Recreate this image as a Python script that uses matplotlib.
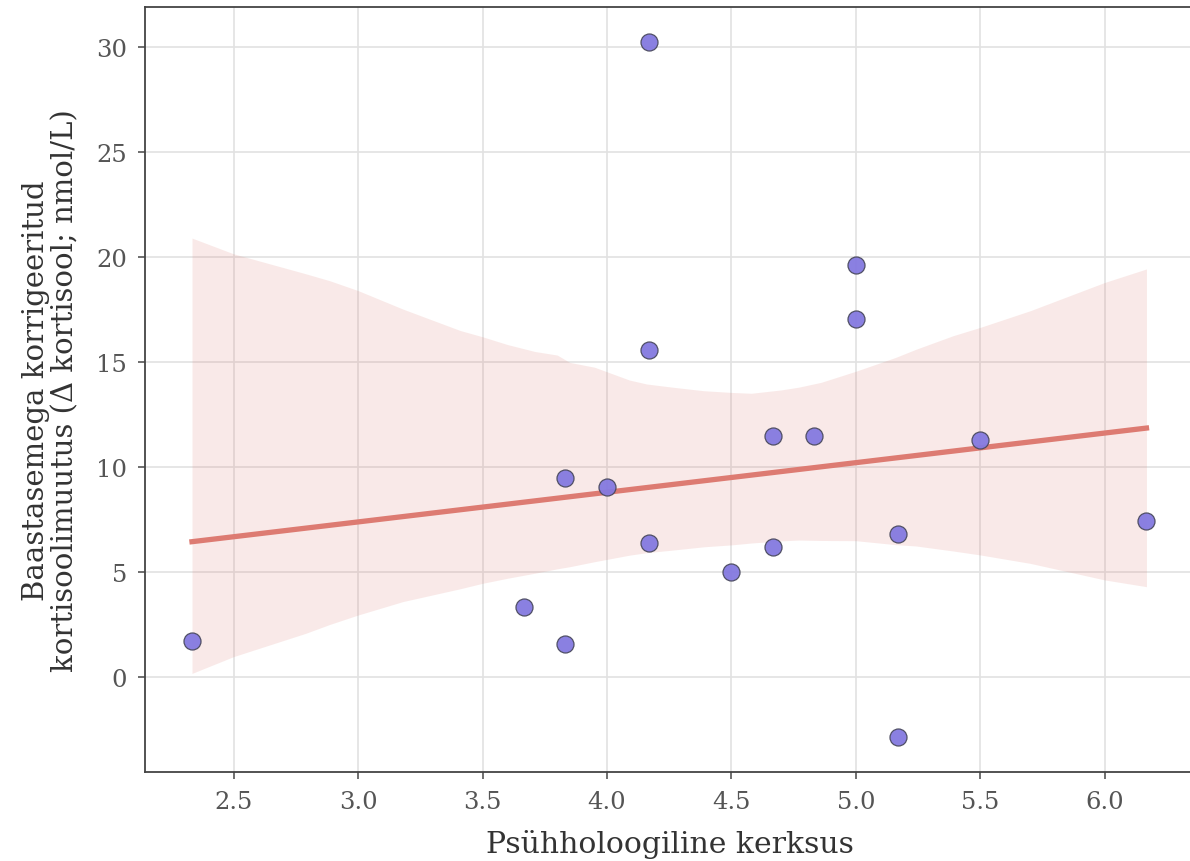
import numpy as np
import matplotlib
matplotlib.use('Agg')
import matplotlib.pyplot as plt

# Dados
kerksus = [2.333, 3.667, 3.833, 3.833, 4.0, 4.167, 4.167, 4.167, 4.5,
           4.667, 4.667, 4.833, 5.0, 5.0, 5.167, 5.167, 5.5, 6.167]
kortisool = [1.71, 3.33, 1.57, 9.48, 9.05, 30.22, 15.57, 6.38, 5.0,
             11.48, 6.19, 11.48, 19.62, 17.03, 6.8, -2.85, 11.29, 7.42]

# Usaldusvahemiku piirid (loetud pildilt)
band_x = [2.333, 2.5, 2.79, 2.886, 3.0, 3.18, 3.41, 3.5, 3.6, 3.71, 3.8, 3.85,
          3.95, 4.09, 4.16, 4.27, 4.39, 4.5, 4.58, 4.70, 4.77, 4.86, 5.0,
          5.16, 5.24, 5.39, 5.5, 5.70, 6.0, 6.167]
band_upper = [20.9, 20.15, 19.2, 18.87, 18.4, 17.52, 16.5, 16.2, 15.83, 15.5, 15.33, 14.98,
              14.75, 14.14, 13.95, 13.79, 13.63, 13.55, 13.51, 13.67, 13.8, 14.03, 14.56,
              15.22, 15.6, 16.25, 16.65, 17.44, 18.79, 19.43]
band_lower = [0.17, 0.97, 2.08, 2.5, 2.95, 3.59, 4.2, 4.46, 4.7, 4.94, 5.15, 5.25,
              5.49, 5.8, 5.92, 6.05, 6.2, 6.29, 6.38, 6.48, 6.52, 6.5, 6.49,
              6.3, 6.24, 6.0, 5.81, 5.41, 4.62, 4.30]

line_color = '#dd7b72'
point_color = '#8479e0'

plt.rcParams['font.family'] = ['DejaVu Serif']

fig = plt.figure(figsize=(11.9, 8.62), dpi=100)
ax = fig.add_axes([0.1218, 0.1036, 0.882, 0.8868])

ax.fill_between(band_x, band_lower, band_upper, color=line_color, alpha=0.16,
                linewidth=0, zorder=1)

# Regressioonijoon
slope, intercept = np.polyfit(kerksus, kortisool, 1)
xs = np.array([min(kerksus), max(kerksus)])
ax.plot(xs, slope * xs + intercept, color=line_color, linewidth=3.8, zorder=2)

ax.scatter(kerksus, kortisool, s=150, color=point_color, edgecolor='#4a4a5e',
           linewidth=0.9, alpha=0.95, zorder=3)

ax.set_xlim(2.144, 6.36)
ax.set_ylim(-4.51, 31.89)
ax.set_xticks([2.5, 3.0, 3.5, 4.0, 4.5, 5.0, 5.5, 6.0])
ax.set_yticks([0, 5, 10, 15, 20, 25, 30])
ax.grid(True, color='#e2e2e2', linewidth=1.2, zorder=0)
ax.set_axisbelow(True)

for side in ['left', 'bottom', 'top']:
    ax.spines[side].set_color('#444444')
    ax.spines[side].set_linewidth(1.3)
ax.spines['right'].set_visible(False)

ax.tick_params(axis='both', labelsize=17.5, colors='#555555', length=5, width=1.2,
               direction='out', pad=8)

ax.set_xlabel('Psühholoogiline kerksus', fontsize=21.5, color='#333333', labelpad=12)
ax.set_ylabel('Baastasemega korrigeeritud\nkortisoolimuutus (Δ kortisool; nmol/L)',
              fontsize=21, color='#333333', labelpad=12, linespacing=1.05)

plt.savefig('out.png', dpi=100)
plt.close()
